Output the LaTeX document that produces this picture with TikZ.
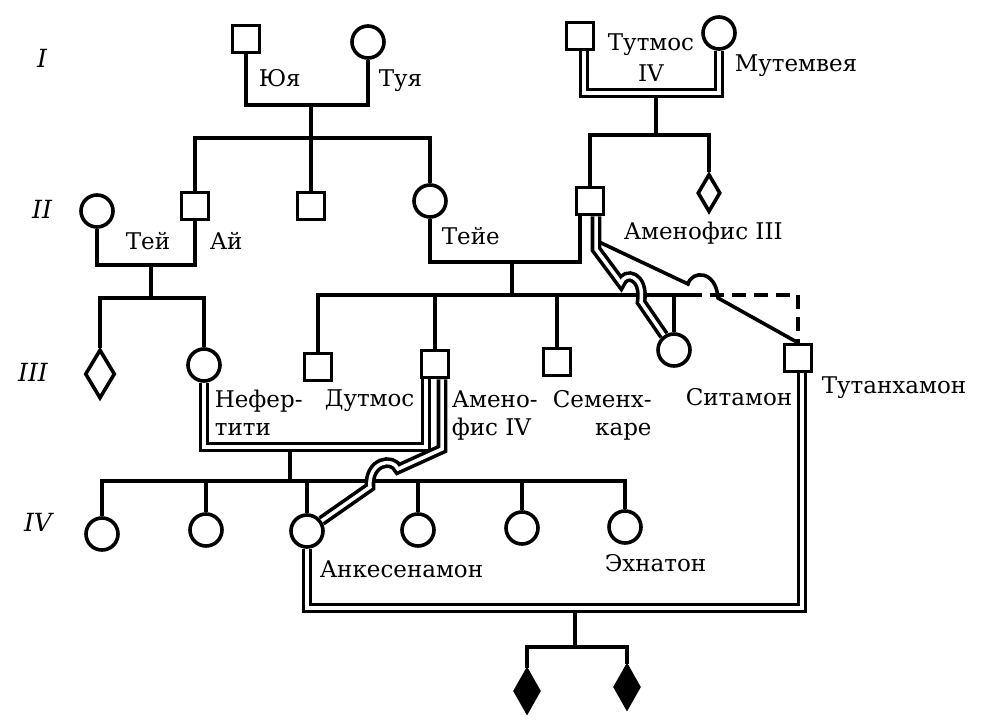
\documentclass[tikz,border=0pt]{standalone}
\usepackage{fontspec}
\setmainfont{DejaVu Serif}
\usetikzlibrary{shapes.geometric}

\begin{document}
\begin{tikzpicture}[x=1pt, y=-1pt, line width=3.6pt, line join=miter]
    \tikzset{male/.style={draw, rectangle, minimum size=27pt, inner sep=0pt},
             female/.style={draw, circle, minimum size=32pt, inner sep=0pt},
             sexunk/.style={draw, diamond, inner sep=0pt},
             kin/.style={double, double distance=3.5pt},
             maybe/.style={dash pattern=on 14pt off 8pt},
             lbl/.style={font=\fontsize{23}{28}\selectfont, inner sep=0pt},
             gen/.style={font=\fontsize{25}{25}\selectfont\itshape, inner sep=0pt}}
    \useasboundingbox (0,0) rectangle (984,722);
    % generations
    \node[gen] (gI) at (42,58) {I};
    \node[gen] (gII) at (42,209) {II};
    \node[gen] (gIII) at (33,372) {III};
    \node[gen] (gIV) at (38,522) {IV};
    % I
    \node[male] (yuya) at (246,39) {};
    \node[female] (tuya) at (368,42) {};
    \node[male] (tutmos) at (580,36) {};
    \node[female] (mutem) at (719,33) {};
    % II
    \node[female] (tej) at (97,211) {};
    \node[male] (aj) at (195,206) {};
    \node[male] (sonII) at (311,206) {};
    \node[female] (teje) at (430,201) {};
    \node[male] (amen3) at (590,201) {};
    \node[sexunk, minimum width=23pt, minimum height=38pt] (dII) at (709,193) {};
    % III
    \node[sexunk, minimum width=30pt, minimum height=49pt] (dIII) at (100,374) {};
    \node[female] (nef) at (204,365) {};
    \node[male] (dutmos) at (318,367) {};
    \node[male] (amen4) at (435,364) {};
    \node[male] (semen) at (557,362) {};
    \node[female] (sitamon) at (674,350) {};
    \node[male] (tutankh) at (798,358) {};
    % IV
    \node[female] (c1) at (102,534) {};
    \node[female] (c2) at (206,530) {};
    \node[female] (ankh) at (307,531) {};
    \node[female] (c4) at (418,530) {};
    \node[female] (c5) at (522,528) {};
    \node[female] (ekhn) at (625,527) {};
    % V
    \node[sexunk, fill=black, minimum width=25pt, minimum height=43pt] (v1) at (527,691) {};
    \node[sexunk, fill=black, minimum width=25pt, minimum height=43pt] (v2) at (627,687) {};

    \coordinate (m1) at (311,105);
    \coordinate (s1) at (311,138);
    \coordinate (m2) at (151,265);
    \coordinate (s2) at (151,298);
    \coordinate (m3) at (656,93);
    \coordinate (s3) at (656,135);
    \coordinate (m4) at (512,262);
    \coordinate (s4) at (512,295);
    \coordinate (e4) at (688,295);
    \coordinate (b3) at (597,241);
    \coordinate (m5) at (290,447);
    \coordinate (s5) at (290,481);
    \coordinate (m6) at (575,608);
    \coordinate (s6) at (575,647);

    \draw (yuya) |- (m1) -| (tuya);
    \draw (m1) -- (s1);
    \draw (aj) |- (s1) -| (teje);
    \draw (sonII) -- (s1);
    \draw (tej) |- (m2) -| (aj);
    \draw (m2) -- (s2);
    \draw (dIII) |- (s2) -| (nef);
    \draw (m3) -- (s3);
    \draw (amen3) |- (s3) -| (dII);
    \draw (teje) |- (m4) -| ([xshift=-10pt]amen3.south);
    \draw (m4) -- (s4);
    \draw (dutmos) |- (e4);
    \draw[maybe] (e4) -| (tutankh);
    \draw (amen4) -- (amen4 |- s4);
    \draw (semen) -- (semen |- s4);
    \draw (sitamon) -- (sitamon |- s4);
    \draw (b3) -- (688,284) .. controls (692,270) and (716,270) .. (718,298) -- (tutankh.north);
    \draw (m5) -- (s5);
    \draw (c1) |- (s5) -| (ekhn);
    \draw (c2) -- (c2 |- s5);
    \draw (ankh) -- (ankh |- s5);
    \draw (c4) -- (c4 |- s5);
    \draw (c5) -- (c5 |- s5);
    \draw (m6) -- (s6);
    \draw (v1) |- (s6) -| (v2);

    \draw[kin] ([xshift=4pt]tutmos.south) |- (m3) -| (mutem);
    \draw[kin] ([xshift=6pt]amen3.south) -- ++(0,33) -- (621,283) .. controls (625,271) and (645,275) .. (641,302) -- (sitamon);
    \draw[kin] (nef) |- (m5) -| ([xshift=-9pt]amen4.south);
    \draw[kin] ([xshift=7pt]amen4.south) -- (442,449) -- (398,469) .. controls (393,457) and (368,461) .. (370,487) -- (ankh);
    \draw[kin] (ankh) |- (m6) -| ([xshift=4pt]tutankh.south);

    \node[lbl, anchor=base west] (lyuya) at (257,87) {Юя};
    \node[lbl, anchor=base west] (ltuya) at (377,87) {Туя};
    \node[lbl, anchor=north, align=center] (ltutmos) at (651,32) {Тутмос\\[3pt]IV};
    \node[lbl, anchor=base west] (lmutem) at (733,72) {Мутемвея};
    \node[lbl, anchor=base west] (ltej) at (124,249) {Тей};
    \node[lbl, anchor=base west] (laj) at (208,249) {Ай};
    \node[lbl, anchor=base west] (lteje) at (440,244) {Тейе};
    \node[lbl, anchor=base west] (lamen3) at (622,239) {Аменофис III};
    \node[lbl, anchor=north west, align=left] (lnef) at (213,388) {Нефер-\\тити};
    \node[lbl, anchor=base west] (ldutmos) at (323,406) {Дутмос};
    \node[lbl, anchor=north west, align=left] (lamen4) at (450,389) {Амено-\\фис IV};
    \node[lbl, anchor=north west, align=right] (lsemen) at (551,389) {Семенх-\\каре};
    \node[lbl, anchor=base west] (lsitamon) at (684,405) {Ситамон};
    \node[lbl, anchor=base west] (ltutankh) at (820,393) {Тутанхамон};
    \node[lbl, anchor=base west] (lankh) at (318,577) {Анкесенамон};
    \node[lbl, anchor=base west] (lekhn) at (603,571) {Эхнатон};
\end{tikzpicture}
\end{document}
